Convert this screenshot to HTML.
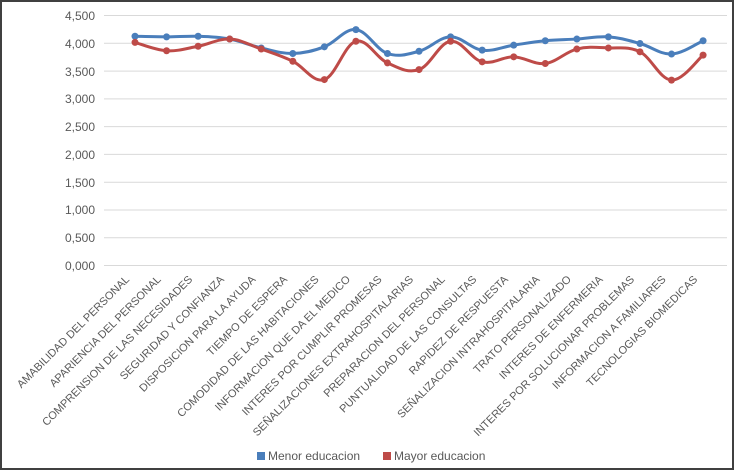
<!DOCTYPE html>
<html><head><meta charset="utf-8"><style>
html,body{margin:0;padding:0;background:#fff;}
svg{display:block;font-family:"Liberation Sans",sans-serif;}
</style></head><body>
<svg id="s" width="734" height="470" viewBox="0 0 734 470" xmlns="http://www.w3.org/2000/svg">
<rect x="1" y="1" width="732" height="468" fill="#fff" stroke="#404040" stroke-width="2"/>
<g stroke="#d9d9d9" stroke-width="1">
<line x1="104" x2="727" y1="15.5" y2="15.5"/><line x1="104" x2="727" y1="43.3" y2="43.3"/>
<line x1="104" x2="727" y1="71.1" y2="71.1"/><line x1="104" x2="727" y1="98.9" y2="98.9"/>
<line x1="104" x2="727" y1="126.6" y2="126.6"/><line x1="104" x2="727" y1="154.4" y2="154.4"/>
<line x1="104" x2="727" y1="182.2" y2="182.2"/><line x1="104" x2="727" y1="210" y2="210"/>
<line x1="104" x2="727" y1="237.8" y2="237.8"/><line x1="104" x2="727" y1="265.5" y2="265.5"/>
</g>
<g fill="#595959" font-size="12" text-anchor="end">
<text x="95" y="20">4,500</text><text x="95" y="48">4,000</text><text x="95" y="76">3,500</text>
<text x="95" y="103">3,000</text><text x="95" y="131">2,500</text><text x="95" y="159">2,000</text>
<text x="95" y="187">1,500</text><text x="95" y="214">1,000</text><text x="95" y="242">0,500</text>
<text x="95" y="270">0,000</text>
</g>
<g id="lines"></g>
<g fill="#595959" font-size="11" text-anchor="end">
<text transform="translate(130,280) rotate(-45)">AMABILIDAD DEL PERSONAL</text>
<text transform="translate(161.6,280) rotate(-45)">APARIENCIA DEL PERSONAL</text>
<text transform="translate(193.1,280) rotate(-45)">COMPRENSION DE LAS NECESIDADES</text>
<text transform="translate(224.7,280) rotate(-45)">SEGURIDAD Y CONFIANZA</text>
<text transform="translate(256.2,280) rotate(-45)">DISPOSICION PARA LA AYUDA</text>
<text transform="translate(287.8,280) rotate(-45)">TIEMPO DE ESPERA</text>
<text transform="translate(319.4,280) rotate(-45)">COMODIDAD DE LAS HABITACIONES</text>
<text transform="translate(350.9,280) rotate(-45)">INFORMACION QUE DA EL MEDICO</text>
<text transform="translate(382.5,280) rotate(-45)">INTERES POR CUMPLIR PROMESAS</text>
<text transform="translate(414,280) rotate(-45)">SEÑALIZACIONES EXTRAHOSPITALARIAS</text>
<text transform="translate(445.6,280) rotate(-45)">PREPARACION DEL PERSONAL</text>
<text transform="translate(477.2,280) rotate(-45)">PUNTUALIDAD DE LAS CONSULTAS</text>
<text transform="translate(508.7,280) rotate(-45)">RAPIDEZ DE RESPUESTA</text>
<text transform="translate(540.3,280) rotate(-45)">SEÑALIZACION INTRAHOSPITALARIA</text>
<text transform="translate(571.8,280) rotate(-45)">TRATO PERSONALIZADO</text>
<text transform="translate(603.4,280) rotate(-45)">INTERES DE ENFERMERIA</text>
<text transform="translate(635,280) rotate(-45)">INTERES POR SOLUCIONAR PROBLEMAS</text>
<text transform="translate(666.5,280) rotate(-45)">INFORMACION A FAMILIARES</text>
<text transform="translate(698.1,280) rotate(-45)">TECNOLOGIAS BIOMEDICAS</text>
</g>
<rect x="257" y="452" width="8" height="8" fill="#4a7ebb"/>
<text x="268" y="460" font-size="12" fill="#595959">Menor educacion</text>
<rect x="383" y="452" width="8" height="8" fill="#be4b48"/>
<text x="394" y="460" font-size="12" fill="#595959">Mayor educacion</text>
</svg>
<script>
var A=[4.13,4.12,4.13,4.08,3.92,3.82,3.94,4.25,3.82,3.86,4.12,3.88,3.97,4.05,4.08,4.12,4.00,3.81,4.05];
var B=[4.02,3.87,3.95,4.08,3.90,3.68,3.35,4.04,3.65,3.53,4.04,3.67,3.76,3.64,3.90,3.92,3.85,3.34,3.79];
function pts(v){return v.map(function(d,i){return [135+31.56*i,265.5-d*55.5];});}
function path(p){var s="M"+p[0][0]+","+p[0][1];for(var i=0;i<p.length-1;i++){var p0=p[i-1]||p[i],p1=p[i],p2=p[i+1],p3=p[i+2]||p2;var t=0.18;
s+=" C"+(p1[0]+(p2[0]-p0[0])*t)+","+(p1[1]+(p2[1]-p0[1])*t)+" "+(p2[0]-(p3[0]-p1[0])*t)+","+(p2[1]-(p3[1]-p1[1])*t)+" "+p2[0]+","+p2[1];}return s;}
var g=document.getElementById("lines"),ns="http://www.w3.org/2000/svg";
[[A,"#4a7ebb"],[B,"#be4b48"]].forEach(function(o){var p=pts(o[0]);var e=document.createElementNS(ns,"path");e.setAttribute("d",path(p));e.setAttribute("fill","none");e.setAttribute("stroke",o[1]);e.setAttribute("stroke-width","3");g.appendChild(e);
p.forEach(function(q){var c=document.createElementNS(ns,"circle");c.setAttribute("cx",q[0]);c.setAttribute("cy",q[1]);c.setAttribute("r","3.5");c.setAttribute("fill",o[1]);g.appendChild(c);});});
</script>
</body></html>
